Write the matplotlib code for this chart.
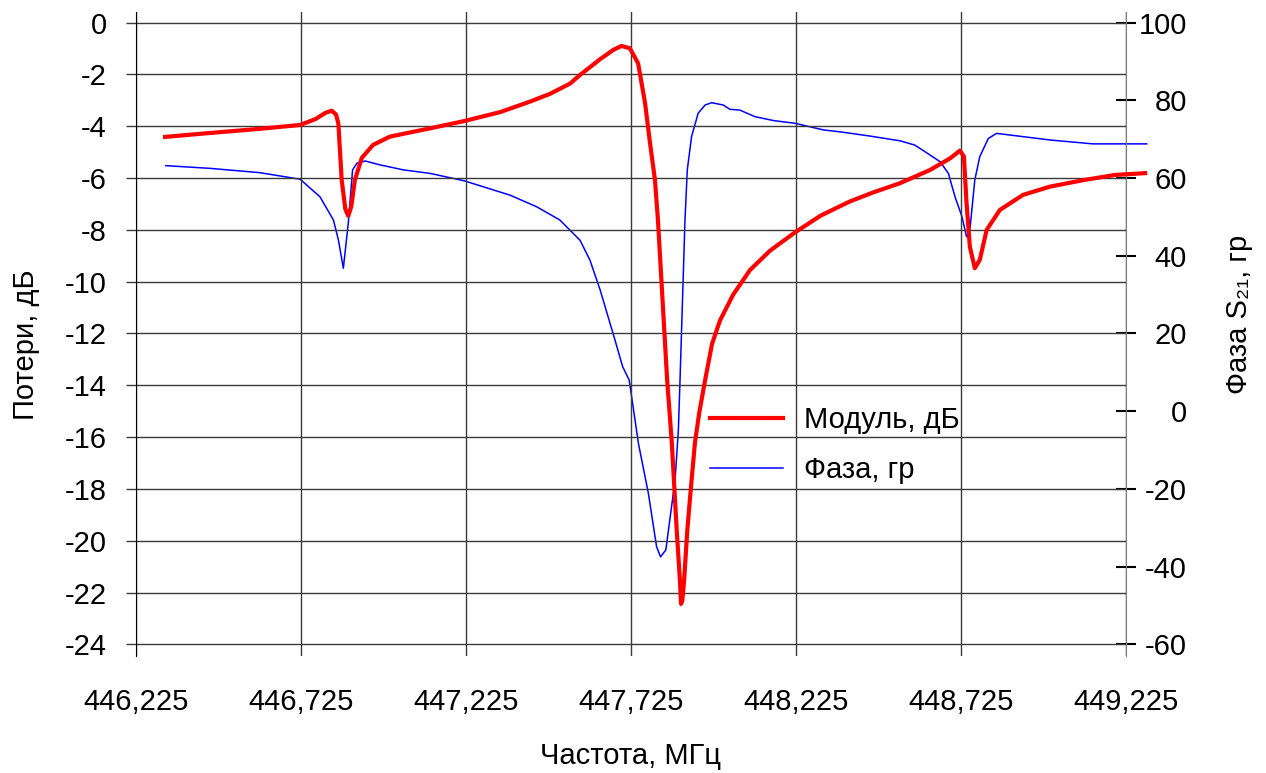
import numpy as np
import matplotlib.pyplot as plt
from matplotlib.ticker import FuncFormatter

plt.rcParams['font.family'] = ['Liberation Sans', 'DejaVu Sans']
plt.rcParams['axes.unicode_minus'] = False

# Модуль S21, дБ
freq_mod = [446.314, 446.45, 446.60, 446.723, 446.77, 446.80, 446.819, 446.832, 446.839,
            446.849, 446.860, 446.869, 446.878, 446.889, 446.910, 446.944, 446.995, 447.117,
            447.220, 447.33, 447.419, 447.48, 447.541, 447.571, 447.632, 447.672, 447.697,
            447.722, 447.747, 447.768, 447.783, 447.798, 447.807, 447.835, 447.849, 447.864,
            447.874, 447.877, 447.881, 447.886, 447.896, 447.906, 447.919, 447.932, 447.950,
            447.971, 447.995, 448.035, 448.086, 448.147, 448.222, 448.30, 448.389, 448.46,
            448.540, 448.631, 448.692, 448.722, 448.734, 448.742, 448.752, 448.767, 448.782,
            448.803, 448.843, 448.913, 448.995, 449.10, 449.192, 449.283]
mod_db = [-4.41, -4.26, -4.10, -3.95, -3.72, -3.48, -3.40, -3.55, -3.90,
          -6.07, -7.20, -7.46, -7.10, -6.07, -5.22, -4.72, -4.40, -4.08,
          -3.80, -3.45, -3.05, -2.75, -2.35, -2.02, -1.41, -1.05, -0.90,
          -0.99, -1.57, -3.10, -4.64, -6.07, -7.60, -13.8, -16.2, -19.6,
          -21.6, -22.44, -22.3, -21.6, -19.6, -18.1, -16.24, -15.08, -13.8,
          -12.4, -11.5, -10.5, -9.55, -8.8, -8.1, -7.45, -6.9, -6.55,
          -6.2, -5.69, -5.24, -4.94, -5.17, -6.96, -8.65, -9.48, -9.16,
          -8.0, -7.23, -6.65, -6.33, -6.07, -5.88, -5.81]

# Фаза S21, градусы
freq_ph = [446.316, 446.45, 446.60, 446.723, 446.783, 446.824, 446.839, 446.854, 446.869,
           446.882, 446.895, 446.920, 446.965, 447.036, 447.117, 447.220, 447.359, 447.44,
           447.510, 447.571, 447.601, 447.632, 447.677, 447.700, 447.720, 447.748, 447.778,
           447.803, 447.815, 447.831, 447.843, 447.859, 447.869, 447.874, 447.889, 447.896,
           447.909, 447.929, 447.950, 447.970, 448.005, 448.025, 448.055, 448.101, 448.157,
           448.222, 448.308, 448.359, 448.45, 448.540, 448.585, 448.616, 448.662, 448.687,
           448.707, 448.728, 448.742, 448.752, 448.767, 448.782, 448.808, 448.833, 448.90,
           448.995, 449.125, 449.288]
phase_deg = [63.2, 62.5, 61.4, 59.7, 55.2, 49.2, 44.1, 36.8, 48.4,
             62.1, 63.8, 64.4, 63.4, 62.1, 61.2, 59.3, 55.6, 52.6,
             49.2, 44.0, 38.9, 31.2, 18.3, 11.5, 8.0, -8.3, -21.1,
             -34.9, -37.5, -35.7, -28.0, -17.7, -4.8, 8.0, 49.2, 62.1,
             70.7, 76.7, 78.8, 79.4, 78.8, 77.7, 77.5, 75.8, 74.8,
             74.1, 72.4, 71.9, 70.8, 69.6, 68.5, 66.8, 64.2, 61.2,
             55.2, 50.1, 44.9, 46.6, 59.5, 65.5, 70.2, 71.5, 70.8,
             69.8, 68.8, 68.8]

x_ticks = [446.225, 446.725, 447.225, 447.725, 448.225, 448.725, 449.225]
db_ticks = list(range(-24, 1, 2))
deg_ticks = list(range(-60, 101, 20))

fs = 21
fig = plt.figure(figsize=(12.66, 7.73), dpi=100)
ax = fig.add_axes([0.1072, 0.1514, 0.7822, 0.8327])
ax2 = ax.twinx()

ax.set_xlim(446.225, 449.225)
ax.set_ylim(-24.45, 0.40)
ax2.set_ylim(100 - 24.45 * 160 / 24, 100 + 0.40 * 160 / 24)

ax.set_xticks(x_ticks)
ax.xaxis.set_major_formatter(FuncFormatter(lambda v, p: f"{v:.3f}".replace('.', ',')))
ax.set_yticks(db_ticks)
ax2.set_yticks(deg_ticks)

ax.grid(True, color='#3a3a3a', lw=1.0)
ax.set_axisbelow(True)

for s in ['top', 'bottom', 'right']:
    ax.spines[s].set_visible(False)
for s in ['top', 'bottom', 'left']:
    ax2.spines[s].set_visible(False)
ax.spines['left'].set_color('black')
ax2.spines['right'].set_color('#808080')

ax.tick_params(axis='x', length=0, pad=23, labelsize=fs)
ax.tick_params(axis='y', direction='out', length=7, width=1, color='#3a3a3a', pad=14, labelsize=fs)
ax2.tick_params(axis='y', direction='inout', length=14, width=1.5, color='black', pad=37, labelsize=fs)
for lbl in ax2.get_yticklabels():
    lbl.set_horizontalalignment('right')

# фаза - на правой оси, модуль поверх неё
ax.set_zorder(ax2.get_zorder() + 1)
ax.patch.set_visible(False)

l2, = ax2.plot(freq_ph, phase_deg, color='#0000ff', lw=1.1, clip_on=False,
               solid_joinstyle='round', label='Фаза, гр')
l1, = ax.plot(freq_mod, mod_db, color='#ff0000', lw=3.0, clip_on=False,
              solid_joinstyle='round', label='Модуль, дБ')

ax.set_xlabel('Частота, МГц', fontsize=fs, labelpad=19)
ax.set_ylabel('Потери, дБ', fontsize=fs)
ax.yaxis.set_label_coords(-0.097, 0.484)
ax2.set_ylabel('Фаза S₂₁, гр', fontsize=fs)
ax2.yaxis.set_label_coords(1.100, 0.53)

ax.legend([l1, l2], ['Модуль, дБ', 'Фаза, гр'], loc='upper left',
          bbox_to_anchor=(0.5608, 0.4749), bbox_transform=fig.transFigure,
          frameon=False, fontsize=fs, borderpad=0, borderaxespad=0,
          handlelength=2.5, handletextpad=0.72, labelspacing=0.75)

plt.savefig('out.png', dpi=100)
